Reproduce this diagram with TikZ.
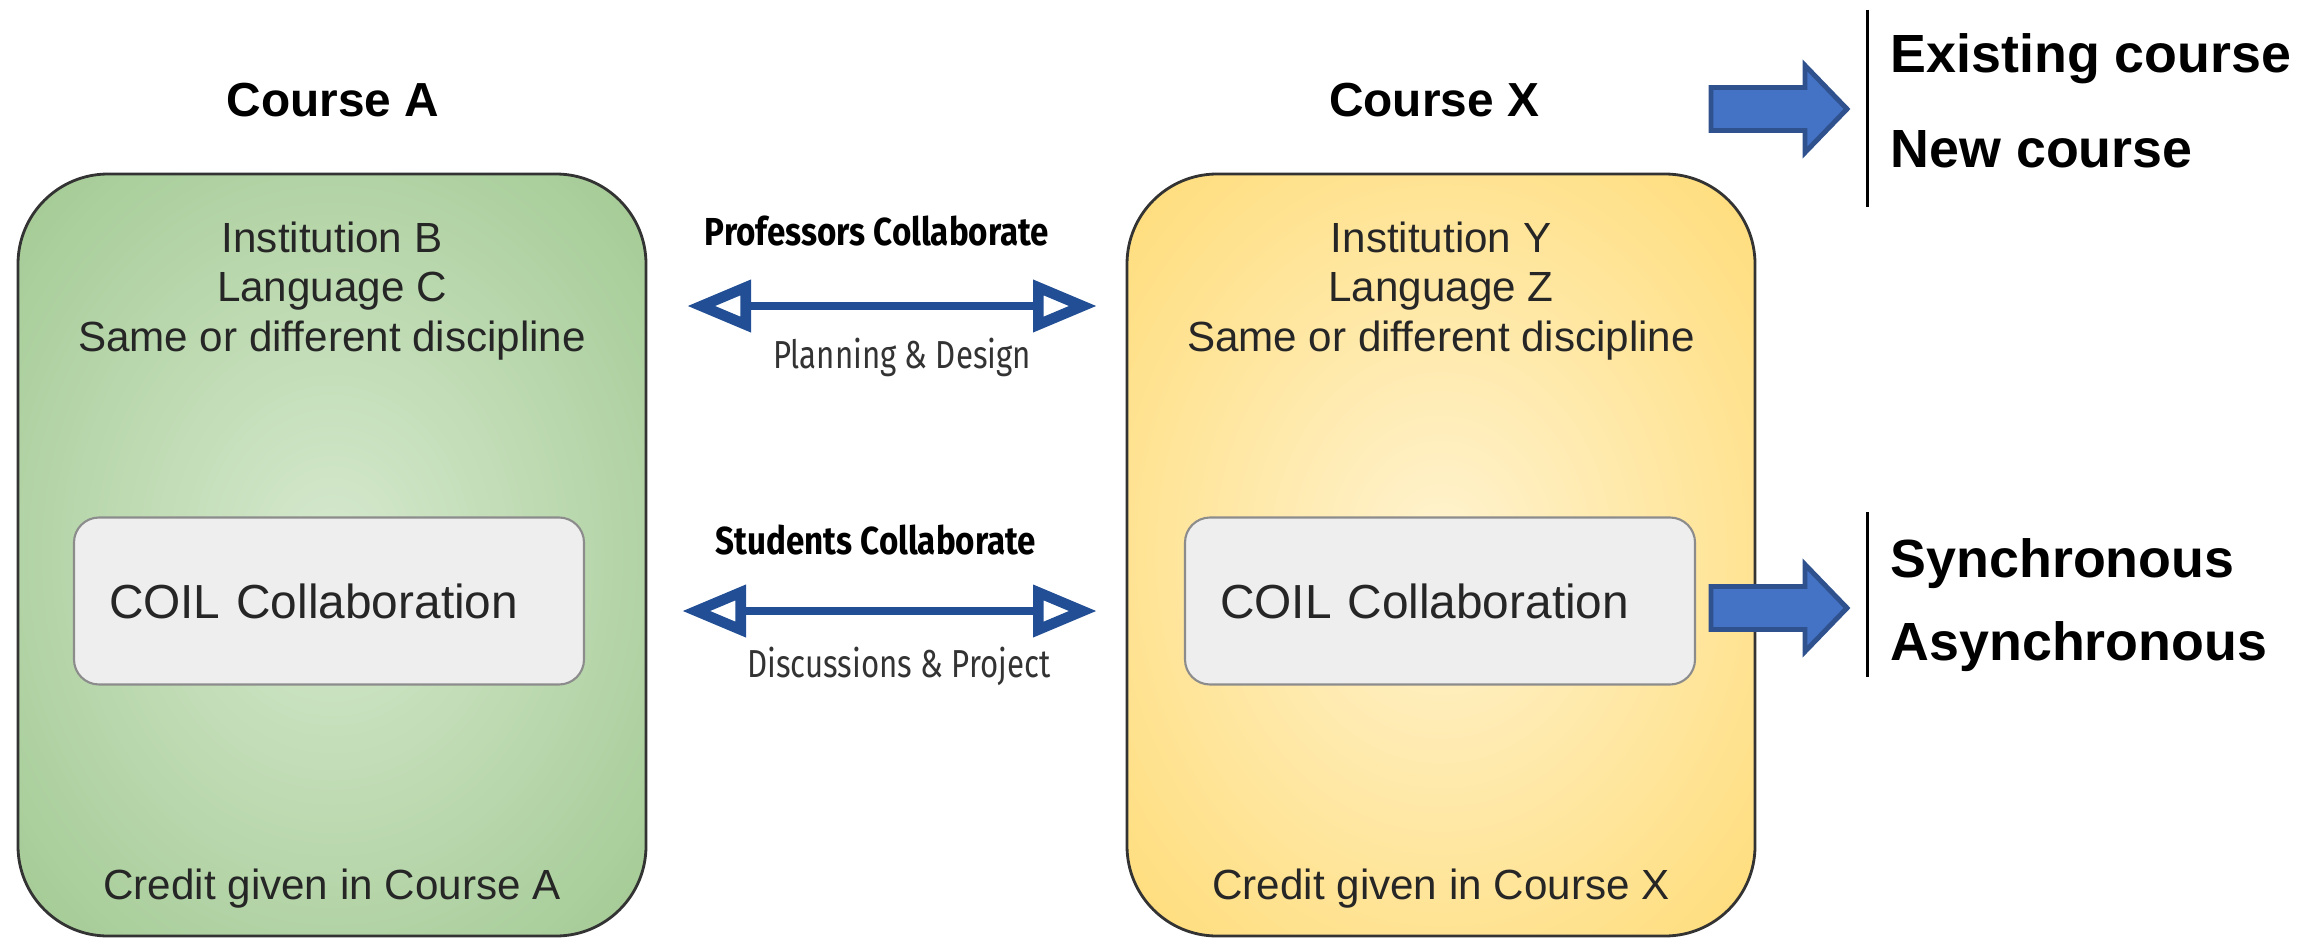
\documentclass[tikz,border=0pt]{standalone}
\usepackage{fontspec}
\setmainfont{Liberation Sans}
\newfontfamily\condfont[FakeStretch=0.8]{Fira Sans}
\newfontfamily\condboldfont[FakeStretch=0.85]{Fira Sans}
\usetikzlibrary{arrows.meta}

\definecolor{greenin}{RGB}{214,233,206}
\definecolor{greenout}{RGB}{150,194,133}
\definecolor{yellowin}{RGB}{255,243,208}
\definecolor{yellowout}{RGB}{255,215,100}
\definecolor{linkblue}{RGB}{33,78,148}
\definecolor{blockfill}{RGB}{68,114,196}
\definecolor{blockline}{RGB}{47,82,143}
\definecolor{panelgrey}{RGB}{238,238,238}

\pgfdeclareradialshading{greenglow}{\pgfpoint{0bp}{0bp}}{color(0bp)=(greenin); color(44bp)=(greenout); color(50bp)=(greenout)}
\pgfdeclareradialshading{yellowglow}{\pgfpoint{0bp}{0bp}}{color(0bp)=(yellowin); color(44bp)=(yellowout); color(50bp)=(yellowout)}

\begin{document}
\begin{tikzpicture}[
    course/.style={draw=black!80, line width=0.8pt, rounded corners=0.9cm, minimum width=6.28cm, minimum height=7.62cm, shade},
    coil/.style={draw=black!45, line width=0.6pt, fill=panelgrey, rounded corners=0.25cm, minimum height=1.67cm, text width=4.4cm, inner xsep=0.35cm, align=left, text=black!85, font=\fontsize{13.6}{16}\selectfont},
    info/.style={align=center, text=black!85, font=\fontsize{12}{14.2}\selectfont},
    title/.style={anchor=base, font=\fontsize{13.6}{16}\selectfont\bfseries},
    side/.style={anchor=base west, inner sep=0pt, font=\fontsize{15.3}{18}\selectfont\bfseries},
    head/.style={anchor=base, font=\condboldfont\bfseries\fontsize{11.1}{13}\selectfont},
    sub/.style={anchor=base, text=black!80, font=\condfont\fontsize{11.1}{13}\selectfont},
    link/.style={draw=linkblue, line width=2.3pt, >={Triangle[open,length=0.64cm,width=0.5cm,line width=3pt]}, <->},
    blockarrow/.style={fill=blockfill, draw=blockline, line width=1.4pt, line join=miter}
]
    \useasboundingbox (0,0) rectangle (23.18,9.40);

    % the two courses
    \node[course, shading=greenglow] (courseA) at (3.32,3.85) {};
    \node[course, shading=yellowglow] (courseX) at (14.41,3.85) {};
    \node[title] (titleA) at (3.33,8.24) {Course A};
    \node[title] (titleX) at (14.34,8.24) {Course X};
    \node[info] (infoA) at (3.32,6.49) {Institution B\\Language C\\Same or different discipline};
    \node[info] (infoX) at (14.41,6.49) {Institution Y\\Language Z\\Same or different discipline};
    \node[coil] (coilA) at (3.29,3.39) {COIL Collaboration};
    \node[coil] (coilX) at (14.40,3.39) {COIL Collaboration};
    \node[info, anchor=base] (creditA) at (3.32,0.41) {Credit given in Course A};
    \node[info, anchor=base] (creditX) at (14.41,0.41) {Credit given in Course X};

    % collaboration between them
    \node[head] (profs) at (8.77,6.95) {Professors Collaborate};
    \node[sub] (plan) at (9.02,5.72) {Planning \& Design};
    \node[head] (studs) at (8.76,3.86) {Students Collaborate};
    \node[sub] (discuss) at (8.99,2.63) {Discussions \& Project};
    \coordinate (pA) at (6.87,6.34);
    \coordinate (pX) at (10.97,6.34);
    \coordinate (sA) at (6.82,3.29);
    \coordinate (sX) at (10.97,3.29);
    \draw[link] (pA) -- (pX);
    \draw[link] (sA) -- (sX);

    % options on the right
    \foreach \y in {8.31,3.32}
        \draw[blockarrow, shift={(17.11,\y)}] (0,-0.215) -- (0.94,-0.215) -- (0.94,-0.435) -- (1.36,0) -- (0.94,0.435) -- (0.94,0.215) -- (0,0.215) -- cycle;
    \draw[line width=0.85pt] (18.67,9.30) -- (18.67,7.33);
    \draw[line width=0.85pt] (18.67,4.28) -- (18.67,2.63);
    \node[side] (existing) at (18.90,8.68) {Existing course};
    \node[side] (new) at (18.90,7.73) {New course};
    \node[side] (sync) at (18.90,3.63) {Synchronous};
    \node[side] (async) at (18.90,2.80) {Asynchronous};
\end{tikzpicture}
\end{document}
